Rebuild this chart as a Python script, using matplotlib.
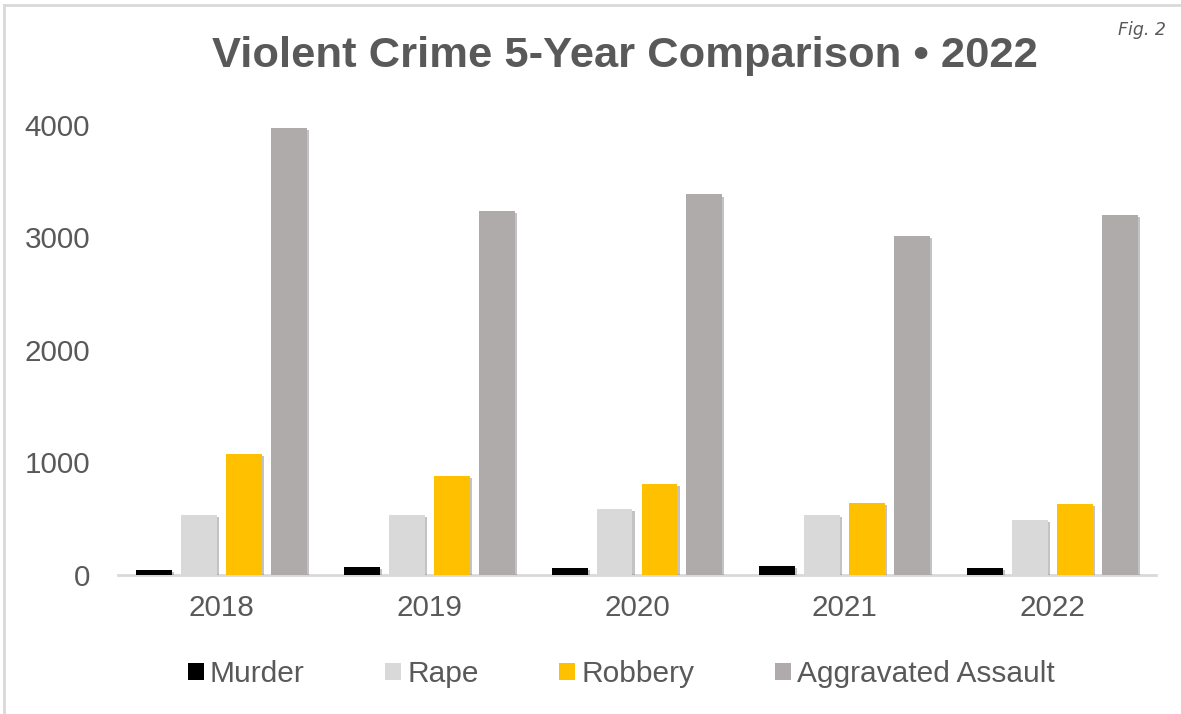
import matplotlib
matplotlib.use("Agg")
import matplotlib.pyplot as plt
import matplotlib.patheffects as pe
import numpy as np

plt.rcParams['font.family'] = ['Liberation Sans', 'DejaVu Sans']

# data
years = ['2018', '2019', '2020', '2021', '2022']
murder = [40, 64, 60, 75, 55]
rape = [529, 529, 580, 529, 484]
robbery = [1076, 876, 804, 633, 627]
agg_assault = [3970, 3231, 3382, 3009, 3196]

series_names = ['Murder', 'Rape', 'Robbery', 'Aggravated Assault']
series_colors = ['#000000', '#d9d9d9', '#ffc000', '#afabab']

text_col = '#595959'

fig = plt.figure(figsize=(11.81, 7.14), dpi=100)
ax = fig.add_axes([118 / 1181, 1 - 574.5 / 714, (1156 - 118) / 1181, (574.5 - 125) / 714])

x = np.arange(len(years))
step = 0.2166
width = 0.173
shadow = [pe.SimplePatchShadow(offset=(1.5, -1.5), shadow_rgbFace='#555555', alpha=0.35), pe.Normal()]

all_series = [murder, rape, robbery, agg_assault]
for i, (vals, name, col) in enumerate(zip(all_series, series_names, series_colors)):
    bars = ax.bar(x + (i - 1.5) * step, vals, width, color=col, label=name, zorder=3)
    for b in bars:
        b.set_path_effects(shadow)

ax.set_xlim(-0.5, 4.5)
ax.set_ylim(0, 4000)
ax.set_yticks([0, 1000, 2000, 3000, 4000])
ax.set_xticks(x)
ax.set_xticklabels(years)

for s in ['top', 'right', 'left']:
    ax.spines[s].set_visible(False)
ax.spines['bottom'].set_color('#d9d9d9')
ax.spines['bottom'].set_linewidth(2)
ax.spines['bottom'].set_zorder(2)

ax.tick_params(axis='both', length=0, labelsize=21.3, labelcolor=text_col)
ax.tick_params(axis='y', pad=20)
ax.tick_params(axis='x', pad=14)

fig.text(0.529, 0.922, 'Violent Crime 5-Year Comparison \u2022 2022', ha='center', va='center',
         fontsize=31.3, fontweight='bold', color=text_col)
fig.text(0.987, 0.958, 'Fig. 2', ha='right', va='center', fontsize=12.5, style='italic',
         color=text_col, family=['DejaVu Sans'])

handles, labels = ax.get_legend_handles_labels()
leg = fig.legend(handles, labels, loc='center', bbox_to_anchor=(0.526, 0.056), ncol=4,
                 frameon=False, fontsize=21.5, handlelength=0.54, handleheight=0.54,
                 handletextpad=0.2, columnspacing=2.7, labelcolor=text_col)
for h in leg.legend_handles:
    h.set_path_effects([])

# chart frame (partly cropped in the reference)
fig.add_artist(plt.Line2D([4 / 1181, 1], [1 - 5 / 714, 1 - 5 / 714], color='#d9d9d9', lw=2,
                          transform=fig.transFigure))
fig.add_artist(plt.Line2D([4 / 1181, 4 / 1181], [0, 1 - 5 / 714], color='#d9d9d9', lw=2,
                          transform=fig.transFigure))

fig.savefig('out.png', dpi=100)
